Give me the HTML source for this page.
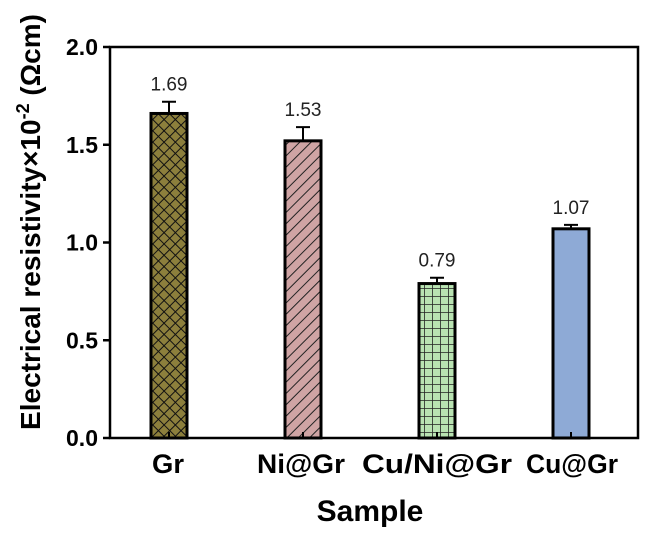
<!DOCTYPE html>
<html><head><meta charset="utf-8"><style>
html,body{margin:0;padding:0;background:#fff}
svg{display:block;font-family:"Liberation Sans",Arial,sans-serif}
</style></head><body>
<svg id="chart" width="645" height="534" viewBox="0 0 645 534">
<defs>
<pattern id="pCross" patternUnits="userSpaceOnUse" width="8" height="8" patternTransform="rotate(45)">
<rect width="8" height="8" fill="#8c7f3c"/><path d="M0 0H8M0 0V8" stroke="#111" stroke-width="2"/></pattern>
<pattern id="pDiag" patternUnits="userSpaceOnUse" width="8" height="8" patternTransform="rotate(45)">
<rect width="8" height="8" fill="#cfa4a4"/><path d="M0 0V8" stroke="#222" stroke-width="2"/></pattern>
<pattern id="pGrid" patternUnits="userSpaceOnUse" width="8" height="8">
<rect width="8" height="8" fill="#b9e3b2"/><path d="M0 0H8M0 0V8" stroke="#222" stroke-width="1.6"/></pattern>
</defs>
<g id="plot"></g>
</svg>
<script>
const categories=["Gr","Ni@Gr","Cu/Ni@Gr","Cu@Gr"];
const values=[1.66,1.52,0.79,1.07];
const errors=[0.06,0.07,0.03,0.02];
const labels=["1.69","1.53","0.79","1.07"];
const yTicks=[0,0.5,1.0,1.5,2.0];
const fills=["url(#pCross)","url(#pDiag)","url(#pGrid)","#8eaad6"];
const labelShift=[-1,-2,0,1];
const labelLen=[32,88,150,92];
const NS="http://www.w3.org/2000/svg";
const g=document.getElementById('plot');
const L=110,R=638,T=47,B=438;
function y(v){return B-(v/2.0)*(B-T);}
function x(i){return 169+134*i;}
function mk(t,a,txt){const e=document.createElementNS(NS,t);for(const k in a)e.setAttribute(k,a[k]);if(txt!=null)e.textContent=txt;g.appendChild(e);return e;}
const bw=36;
categories.forEach((c,i)=>{
 const cx=x(i);
 const bar=mk('rect',{x:cx-bw/2,y:y(values[i]),width:bw,height:B-y(values[i]),fill:fills[i],stroke:'#000','stroke-width':3});
 
 
 const ey=y(values[i]+errors[i]);
 const er=mk('path',{d:`M${cx} ${y(values[i])}V${ey}M${cx-7} ${ey}H${cx+7}`,stroke:'#000','stroke-width':2,fill:'none'});
 
 
 const vl=mk('text',{x:cx,y:ey-11,'text-anchor':'middle','font-size':19,fill:'#222'},labels[i]);
 
 
 const tl=mk('text',{x:cx+labelShift[i],y:473,'text-anchor':'middle','font-size':27,'font-weight':'bold',textLength:labelLen[i],lengthAdjust:'spacingAndGlyphs'},c);
 
 
 const tk=mk('line',{x1:cx,x2:cx,y1:B,y2:B-6,stroke:'#000','stroke-width':2});
 
 
});
yTicks.forEach(v=>{
 const t=mk('line',{x1:L-7,x2:L,y1:y(v),y2:y(v),stroke:'#000','stroke-width':2.5});
 
 
 const tx=mk('text',{x:L-12,y:y(v)+8,'text-anchor':'end','font-size':23,'font-weight':'bold'},v.toFixed(1));
 
 
});
const fr=mk('rect',{x:L,y:T,width:R-L,height:B-T,fill:'none',stroke:'#000','stroke-width':2.5});


const xt=mk('text',{x:370,y:521,'text-anchor':'middle','font-size':30,'font-weight':'bold'},'Sample');


const yt=mk('text',{x:0,y:0,'text-anchor':'middle','font-size':28,'font-weight':'bold',transform:'translate(40,222) rotate(-90)'});
yt.innerHTML='Electrical resistivity×10<tspan dy="-11" font-size="18">-2</tspan><tspan dy="11"> (Ωcm)</tspan>';


</script>
</body></html>
